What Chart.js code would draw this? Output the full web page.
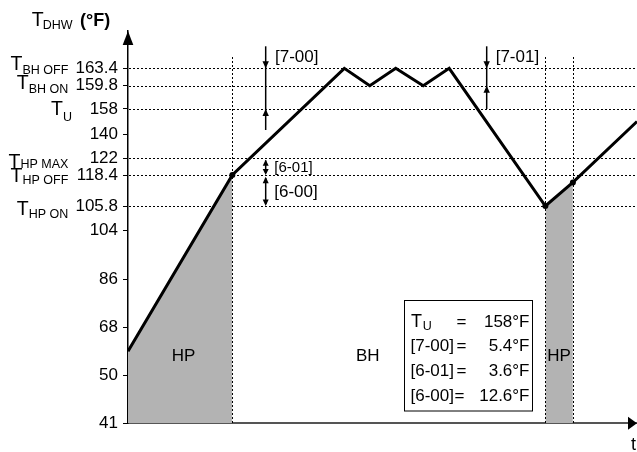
<!DOCTYPE html>
<html><head><meta charset="utf-8">
<script src="https://cdn.jsdelivr.net/npm/chart.js@4"></script>
<style>html,body{margin:0;padding:0;background:#fff}canvas{display:block}</style>
</head><body>
<canvas id="c" width="637" height="452"></canvas>
<script>
// ---------------- data ----------------
const TIME = [0, 20.5, 42.5, 47.5, 52.6, 58, 63.1, 82, 87.4, 100];           // arbitrary time units
const TEMP_F = [59, 118.4, 163.4, 159.8, 163.4, 159.8, 163.4, 105.8, 115.4, 149]; // °F
const TICK_VALUES_F = [41, 50, 68, 86, 104, 105.8, 118.4, 122, 140, 158, 159.8, 163.4];
const TICK_LABELS = ['41', '50', '68', '86', '104', '105.8', '118.4', '122', '140', '158', '159.8', '163.4'];
const LEVEL_VALUES_F = [163.4, 159.8, 158, 122, 118.4, 105.8];
const LEVEL_NAMES = ['BH OFF', 'BH ON', 'U', 'HP MAX', 'HP OFF', 'HP ON'];
const HP_PHASES = [[0, 20.5], [82, 87.4]];
const SWITCH_TIMES = [20.5, 82, 87.4];
const PHASE_NAMES = ['HP', 'BH', 'HP'];
const PARAM_NAMES = ['T_U', '[7-00]', '[6-01]', '[6-00]'];
const PARAM_VALUES_F = [158, 5.4, 3.6, 12.6];

// ---------------- layout (schematic, non-linear temperature axis) ----------------
const TICK_POS = [0, 48, 96, 144, 193, 217.3, 248.3, 265, 289.3, 314.3, 337.6, 355];
const Y_MAX_POS = 392.3;
const FONT = '"Liberation Sans", Arial, Helvetica, sans-serif';

function toPos(f) {
  const v = TICK_VALUES_F, p = TICK_POS, n = v.length;
  let i = 0;
  if (f >= v[n - 1]) i = n - 2;
  else { while (i < n - 2 && f > v[i + 1]) i++; }
  return p[i] + (f - v[i]) * (p[i + 1] - p[i]) / (v[i + 1] - v[i]);
}

const mainData = TIME.map((t, i) => ({ x: t, y: toPos(TEMP_F[i]) }));
const fillSets = HP_PHASES.map(([a, b]) => ({
  data: mainData.filter(pt => pt.x >= a && pt.x <= b),
  fill: 'origin',
  backgroundColor: '#b3b3b3',
  borderWidth: 0,
  pointRadius: 0,
  tension: 0
}));

function arrowHead(ctx, x, tipY, dir, l, w) {
  l = l || 7; w = w || 3.2;
  ctx.beginPath();
  ctx.moveTo(x, tipY);
  ctx.lineTo(x - w, tipY - dir * l);
  ctx.lineTo(x + w, tipY - dir * l);
  ctx.closePath();
  ctx.fill();
}

const SYM_SUB_RIGHT = [68.3, 68.3, 72, 68.3, 68.3, 68.3];
const SYM_OFFSETS = [[1.7, 5.7], [3.3, 7.3], [6, 12], [9.4, 9.2], [7.3, 9], [9, 11.7]];
const PHASE_LABEL_T = [10.9, 47.1, 84.7];
const ANN_T = [27.05, 70.47];

const deco = {
  id: 'deco',
  beforeDatasetsDraw(chart) {
    const { ctx, chartArea: a, scales: { y } } = chart;
    ctx.save();
    ctx.strokeStyle = '#000'; ctx.lineWidth = 1; ctx.setLineDash([2, 2]);
    LEVEL_VALUES_F.forEach(v => {
      const py = Math.round(y.getPixelForValue(toPos(v))) + 0.5;
      ctx.beginPath(); ctx.moveTo(a.left + 1, py); ctx.lineTo(a.right, py); ctx.stroke();
    });
    ctx.restore();
  },
  beforeDatasetDraw(chart, args) {
    if (args.index !== 0) return;
    const { ctx, chartArea: a, scales: { x } } = chart;
    ctx.save();
    ctx.strokeStyle = '#000'; ctx.lineWidth = 1; ctx.setLineDash([2, 2]);
    SWITCH_TIMES.forEach(t => {
      const px = Math.round(x.getPixelForValue(t)) + 0.5;
      ctx.beginPath(); ctx.moveTo(px, a.top + 26); ctx.lineTo(px, a.bottom); ctx.stroke();
    });
    ctx.restore();
  },
  afterDraw(chart) {
    const { ctx, chartArea: a, scales: { x, y } } = chart;
    const py = f => y.getPixelForValue(toPos(f));
    ctx.save();
    ctx.fillStyle = '#000'; ctx.strokeStyle = '#000';
    ctx.textBaseline = 'alphabetic';

    // axis title
    ctx.textAlign = 'left';
    ctx.font = `19.5px ${FONT}`; ctx.fillText('T', 31.7, 26);
    ctx.font = `12.5px ${FONT}`; ctx.fillText('DHW', 42.7, 29.3);
    ctx.font = `bold 18px ${FONT}`; ctx.fillText('(°F)', 80, 26);

    // level symbols
    LEVEL_VALUES_F.forEach((v, i) => {
      const p = py(v);
      const [dT, dS] = SYM_OFFSETS[i];
      ctx.textAlign = 'right';
      ctx.font = `12.5px ${FONT}`;
      const sw = ctx.measureText(LEVEL_NAMES[i]).width;
      ctx.fillText(LEVEL_NAMES[i], SYM_SUB_RIGHT[i], p + dS);
      ctx.font = `19.5px ${FONT}`;
      ctx.fillText('T', SYM_SUB_RIGHT[i] - sw, p + dT);
    });

    // axis arrows
    arrowHead(ctx, a.left, a.top, -1, 14, 5.3);
    ctx.beginPath();
    ctx.moveTo(a.right, a.bottom); ctx.lineTo(a.right - 9, a.bottom - 6.5); ctx.lineTo(a.right - 9, a.bottom + 6.5);
    ctx.closePath(); ctx.fill();
    ctx.textAlign = 'center'; ctx.font = `18px ${FONT}`;
    ctx.fillText('t', a.right - 3.5, 450);

    // annotations
    ctx.lineWidth = 1.5; ctx.setLineDash([]);
    const x1 = x.getPixelForValue(ANN_T[0]), x2 = x.getPixelForValue(ANN_T[1]);
    const pOff = py(LEVEL_VALUES_F[0]), pOn = py(LEVEL_VALUES_F[1]), pU = py(LEVEL_VALUES_F[2]);
    const pMax = py(LEVEL_VALUES_F[3]), pHOff = py(LEVEL_VALUES_F[4]), pHOn = py(LEVEL_VALUES_F[5]);
    // [7-00]
    ctx.beginPath(); ctx.moveTo(x1, pOff - 22); ctx.lineTo(x1, pU + 21); ctx.stroke();
    arrowHead(ctx, x1, pOff, 1); arrowHead(ctx, x1, pU, -1);
    // [7-01]
    ctx.beginPath(); ctx.moveTo(x2, pOff - 22); ctx.lineTo(x2, pU); ctx.stroke();
    arrowHead(ctx, x2, pOff, 1); arrowHead(ctx, x2, pOn, -1);
    // [6-01]
    ctx.beginPath(); ctx.moveTo(x1, pMax + 2); ctx.lineTo(x1, pHOff - 2); ctx.stroke();
    arrowHead(ctx, x1, pMax + 1.5, -1, 6, 3); arrowHead(ctx, x1, pHOff, 1, 6, 3);
    // [6-00]
    ctx.beginPath(); ctx.moveTo(x1, pHOff + 3); ctx.lineTo(x1, pHOn - 2); ctx.stroke();
    arrowHead(ctx, x1, pHOff + 1.7, -1, 6.5, 3); arrowHead(ctx, x1, pHOn, 1, 6.5, 3);
    ctx.textAlign = 'left';
    ctx.font = `17px ${FONT}`;
    ctx.fillText(PARAM_NAMES[1], x1 + 9.3, pOff - 6.3);
    ctx.fillText('[7-01]', x2 + 9, pOff - 6.3);
    ctx.fillText(PARAM_NAMES[3], x1 + 8.6, pHOn - 9);
    ctx.font = `15px ${FONT}`;
    ctx.fillText(PARAM_NAMES[2], x1 + 8.6, pHOff - 3.5);

    // phase labels
    ctx.font = `17px ${FONT}`; ctx.textAlign = 'center'; ctx.textBaseline = 'middle';
    PHASE_NAMES.forEach((n, i) => ctx.fillText(n, x.getPixelForValue(PHASE_LABEL_T[i]), a.bottom - 66.6));

    // parameter box
    ctx.textBaseline = 'alphabetic';
    ctx.lineWidth = 1;
    ctx.fillStyle = '#fff';
    ctx.fillRect(404.5, 300.5, 128, 110.5);
    ctx.strokeRect(404.5, 300.5, 128, 110.5);
    ctx.fillStyle = '#000';
    const rows = [327, 351, 376, 400.5];
    const eqX = [461.5, 461.5, 461.5, 459.5];
    PARAM_NAMES.forEach((n, i) => {
      const b = rows[i];
      ctx.textAlign = 'left';
      if (n.startsWith('T_')) {
        ctx.font = `18px ${FONT}`; ctx.fillText('T', 411, b);
        ctx.font = `12.5px ${FONT}`; ctx.fillText(n.slice(2), 422.8, b + 3);
      } else {
        ctx.font = `17px ${FONT}`; ctx.fillText(n, 410.5, b);
      }
      ctx.font = `17px ${FONT}`;
      ctx.textAlign = 'center'; ctx.fillText('=', eqX[i], b);
      ctx.textAlign = 'right'; ctx.fillText(PARAM_VALUES_F[i] + '°F', 529.5, b);
    });
    ctx.restore();
  }
};

new Chart(document.getElementById('c'), {
  type: 'line',
  data: {
    datasets: [
      {
        data: mainData,
        borderColor: '#000',
        borderWidth: 3,
        borderJoinStyle: 'miter',
        tension: 0,
        fill: false,
        pointRadius: ctx => (SWITCH_TIMES.includes(TIME[ctx.dataIndex]) ? 3 : 0),
        pointBackgroundColor: '#000',
        pointBorderWidth: 0
      },
      ...fillSets
    ]
  },
  options: {
    responsive: false,
    devicePixelRatio: 1,
    animation: false,
    events: [],
    layout: { padding: { top: 31, left: 0, right: 0, bottom: 0 } },
    plugins: { legend: { display: false }, tooltip: { enabled: false } },
    scales: {
      x: {
        type: 'linear', min: 0, max: 100,
        ticks: { display: false },
        grid: { display: false },
        border: { display: true, color: '#555', width: 2 },
        afterFit: s => { s.height = 28.7; }
      },
      y: {
        type: 'linear', min: 0, max: Y_MAX_POS,
        afterBuildTicks: s => { s.ticks = TICK_POS.map(v => ({ value: v })); },
        afterFit: s => { s.width = 128; },
        ticks: {
          autoSkip: false,
          padding: 5,
          color: '#000',
          font: { family: FONT, size: 17 },
          callback: (v, i) => TICK_LABELS[i]
        },
        grid: { drawOnChartArea: false, drawTicks: true, tickLength: 5, tickColor: '#000', tickWidth: 1 },
        border: { display: true, color: '#000', width: 1.5 }
      }
    }
  },
  plugins: [deco]
});
</script>
</body></html>
